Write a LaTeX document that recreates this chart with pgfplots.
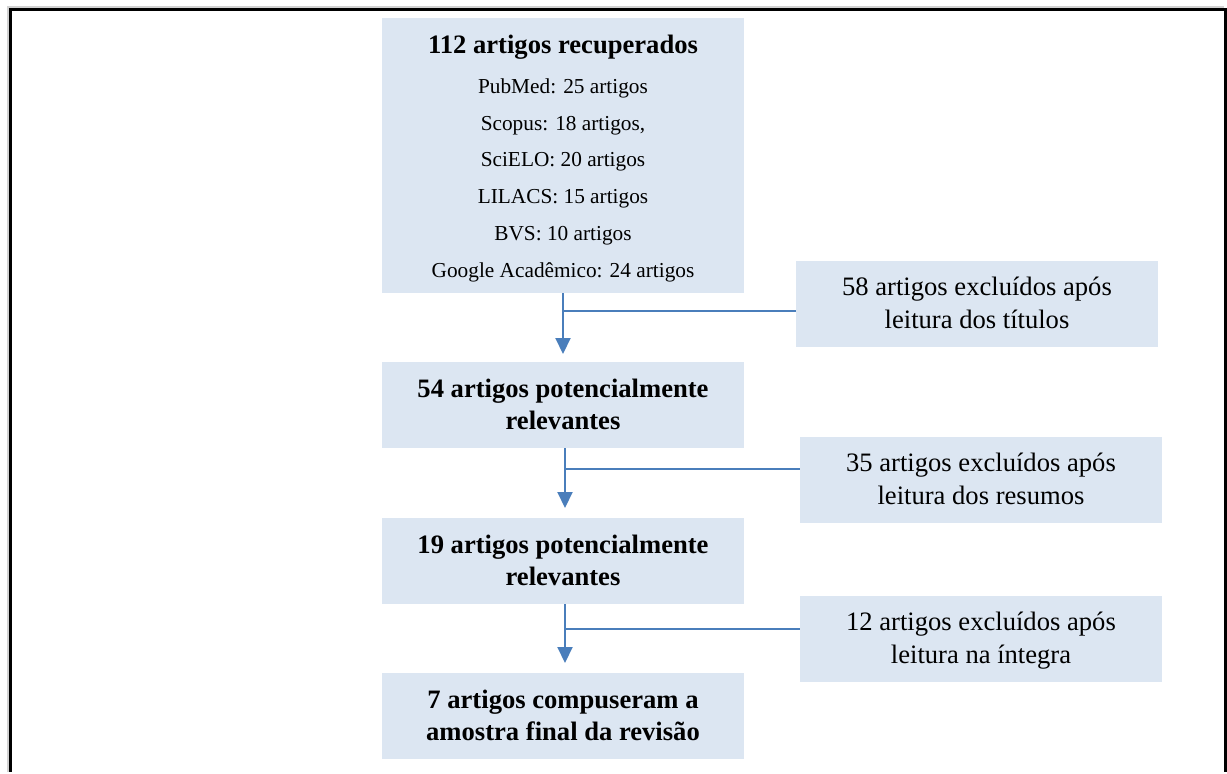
\documentclass[border=0pt]{standalone}
\usepackage{fontspec}
\setmainfont{Liberation Serif}
\usepackage{pgfplots}
\pgfplotsset{compat=1.18}
\usetikzlibrary{arrows.meta}
\definecolor{boxfill}{HTML}{DCE6F2}
\definecolor{arrowblue}{HTML}{4A7EBB}
\begin{document}
\begin{tikzpicture}
\begin{axis}[x=0.5pt, y=0.5pt, xmin=0, xmax=1227, ymin=0, ymax=772,
  y dir=reverse, hide axis, clip=false]
% invisible extent of the whole picture
\addplot[draw=none, forget plot] coordinates {(0,0) (1227,772)};
% outer frame (open at bottom)
\addplot[gray!35, line width=1pt, forget plot] coordinates {(8,772) (8,7) (1224,7)};
\addplot[black, line width=1.5pt, forget plot] coordinates {(10.5,772) (10.5,9.5) (1225,9.5) (1225,772)};
% boxes
\addplot[fill=boxfill, draw=none, forget plot] coordinates {(382,18) (744,18) (744,293) (382,293)} -- cycle;
\addplot[fill=boxfill, draw=none, forget plot] coordinates {(796,261) (1158,261) (1158,347) (796,347)} -- cycle;
\addplot[fill=boxfill, draw=none, forget plot] coordinates {(382,362) (744,362) (744,448) (382,448)} -- cycle;
\addplot[fill=boxfill, draw=none, forget plot] coordinates {(800,437) (1162,437) (1162,523) (800,523)} -- cycle;
\addplot[fill=boxfill, draw=none, forget plot] coordinates {(382,518) (744,518) (744,604) (382,604)} -- cycle;
\addplot[fill=boxfill, draw=none, forget plot] coordinates {(800,596) (1162,596) (1162,682) (800,682)} -- cycle;
\addplot[fill=boxfill, draw=none, forget plot] coordinates {(382,673) (744,673) (744,759) (382,759)} -- cycle;
% connectors
\addplot[arrowblue, line width=1pt, -{Triangle[length=8pt,width=7.5pt]}, forget plot] coordinates {(563,293) (563,354)};
\addplot[arrowblue, line width=1pt, forget plot] coordinates {(563,311) (796,311)};
\addplot[arrowblue, line width=1pt, -{Triangle[length=8pt,width=7.5pt]}, forget plot] coordinates {(565,448) (565,508)};
\addplot[arrowblue, line width=1pt, forget plot] coordinates {(565,469) (800,469)};
\addplot[arrowblue, line width=1pt, -{Triangle[length=8pt,width=7.5pt]}, forget plot] coordinates {(565,604) (565,663)};
\addplot[arrowblue, line width=1pt, forget plot] coordinates {(565,629) (800,629)};
% texts
\tikzset{big/.style={anchor=base, font=\fontsize{13.3}{16}\selectfont\bfseries},
         mid/.style={anchor=base, font=\fontsize{13.3}{16}\selectfont},
         small/.style={anchor=base, font=\fontsize{10.65}{13}\selectfont}}
\node[big] at (axis cs:563,53) {112 artigos recuperados};
\node[small] at (axis cs:563,93) {PubMed: 25 artigos};
\node[small] at (axis cs:563,130) {Scopus: 18 artigos,};
\node[small] at (axis cs:563,166) {SciELO: 20 artigos};
\node[small] at (axis cs:563,203) {LILACS: 15 artigos};
\node[small] at (axis cs:563,240) {BVS: 10 artigos};
\node[small] at (axis cs:563,277) {Google Acadêmico: 24 artigos};
\node[mid] at (axis cs:977,295) {58 artigos excluídos após};
\node[mid] at (axis cs:977,328) {leitura dos títulos};
\node[big] at (axis cs:563,397) {54 artigos potencialmente};
\node[big] at (axis cs:563,429) {relevantes};
\node[mid] at (axis cs:981,471) {35 artigos excluídos após};
\node[mid] at (axis cs:981,504) {leitura dos resumos};
\node[big] at (axis cs:563,553) {19 artigos potencialmente};
\node[big] at (axis cs:563,585) {relevantes};
\node[mid] at (axis cs:981,630) {12 artigos excluídos após};
\node[mid] at (axis cs:981,663) {leitura na íntegra};
\node[big] at (axis cs:563,708) {7 artigos compuseram a};
\node[big] at (axis cs:563,740) {amostra final da revisão};
\end{axis}
\end{tikzpicture}
\end{document}
